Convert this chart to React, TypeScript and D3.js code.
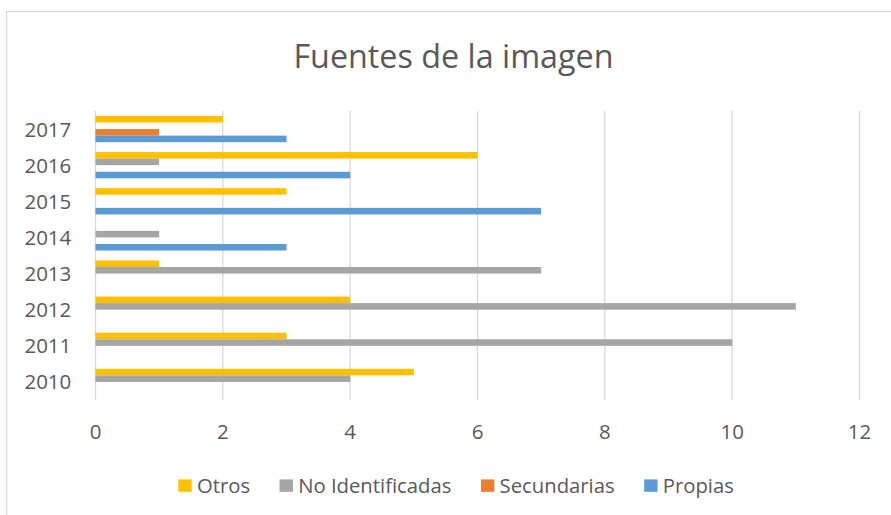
import React, { useEffect, useRef } from "react";
import * as d3 from "d3";

const categories = ["2010", "2011", "2012", "2013", "2014", "2015", "2016", "2017"];
const seriesNames = ["Otros", "No Identificadas", "Secundarias", "Propias"];
const seriesColors = ["#FFC000", "#A5A5A5", "#ED7D31", "#5B9BD5"];
const otros = [5, 3, 4, 1, 0, 3, 6, 2];
const noIdentificadas = [4, 10, 11, 7, 1, 0, 1, 0];
const secundarias = [0, 0, 0, 0, 0, 0, 0, 1];
const propias = [0, 0, 0, 0, 3, 7, 4, 3];
const xTicks = [0, 2, 4, 6, 8, 10, 12];
const title = "Fuentes de la imagen";

const W = 891;
const H = 515;
const FONT = "'Open Sans', 'Noto Sans', sans-serif";
const TEXT = "#595959";

export default function App() {
  const ref = useRef<SVGSVGElement>(null);

  useEffect(() => {
    const svg = d3.select(ref.current);
    svg.selectAll("*").remove();

    const values = [otros, noIdentificadas, secundarias, propias];
    const x = d3.scaleLinear().domain([0, 12]).range([95.5, 859.5]);
    const y = d3
      .scaleBand<string>()
      .domain([...categories].reverse())
      .range([111, 400])
      .padding(0);
    const inner = d3
      .scaleBand<string>()
      .domain(seriesNames)
      .range([0, y.bandwidth()])
      .paddingInner(0)
      .paddingOuter(0.75);

    // frame
    svg
      .append("rect")
      .attr("x", 6.6)
      .attr("y", 11.6)
      .attr("width", 1000)
      .attr("height", 600)
      .attr("fill", "#fff")
      .attr("stroke", "#D9D9D9")
      .attr("stroke-width", 1.3);

    // title
    svg
      .append("text")
      .attr("x", 453.5)
      .attr("y", 67.5)
      .attr("text-anchor", "middle")
      .attr("font-family", FONT)
      .attr("font-size", 32.3)
      .attr("fill", TEXT)
      .text(title);

    // gridlines
    svg
      .append("g")
      .selectAll("line")
      .data(xTicks)
      .join("line")
      .attr("x1", (d) => x(d))
      .attr("x2", (d) => x(d))
      .attr("y1", 111)
      .attr("y2", 400)
      .attr("stroke", "#D9D9D9")
      .attr("stroke-width", 1.3);

    // x tick labels
    svg
      .append("g")
      .selectAll("text")
      .data(xTicks)
      .join("text")
      .attr("x", (d) => x(d))
      .attr("y", 439.3)
      .attr("text-anchor", "middle")
      .attr("font-family", FONT)
      .attr("font-size", 20.5)
      .attr("fill", TEXT)
      .text((d) => String(d));

    // y labels
    svg
      .append("g")
      .selectAll("text")
      .data(categories)
      .join("text")
      .attr("x", 71.3)
      .attr("y", (d) => (y(d) as number) + y.bandwidth() / 2 + 7.5)
      .attr("text-anchor", "end")
      .attr("font-family", FONT)
      .attr("font-size", 20.5)
      .attr("fill", TEXT)
      .text((d) => d);

    // bars
    seriesNames.forEach((s, si) => {
      svg
        .append("g")
        .selectAll("rect")
        .data(categories.map((c, i) => ({ c, v: values[si][i] })).filter((d) => d.v > 0))
        .join("rect")
        .attr("x", x(0))
        .attr("y", (d) => (y(d.c) as number) + (inner(s) as number))
        .attr("width", (d) => x(d.v) - x(0))
        .attr("height", inner.bandwidth())
        .attr("fill", seriesColors[si]);
    });

    // legend
    const lg = svg.append("g");
    let cx = 0;
    seriesNames.forEach((s, si) => {
      const t = lg
        .append("text")
        .attr("y", 492.6)
        .attr("font-family", FONT)
        .attr("font-size", 20.3)
        .attr("fill", TEXT)
        .text(s);
      const w = (t.node() as SVGTextElement).getComputedTextLength();
      t.attr("x", cx + 18.6);
      lg.append("rect")
        .attr("x", cx)
        .attr("y", 479.4)
        .attr("width", 13.4)
        .attr("height", 12.4)
        .attr("fill", seriesColors[si]);
      cx += 18.6 + w + (si < seriesNames.length - 1 ? 29.5 : 0);
    });
    const total = cx;
    lg.attr("transform", `translate(${178.3},0)`);
    void total;
  }, []);

  return (
    <div style={{ position: "absolute", left: 0, top: 0, width: W, height: H, background: "#fff" }}>
      <svg ref={ref} width={W} height={H} style={{ display: "block" }} />
    </div>
  );
}
